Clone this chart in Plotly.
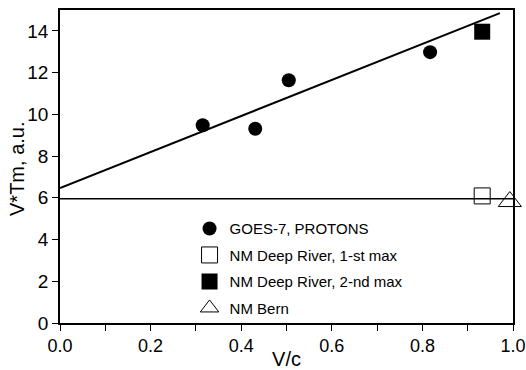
import plotly.graph_objects as go

goes_x = [0.315, 0.431, 0.505, 0.817]
goes_y = [9.48, 9.31, 11.63, 12.98]
dr1_x = [0.932]
dr1_y = [6.09]
dr2_x = [0.932]
dr2_y = [13.96]
bern_x = [0.993]
bern_y = [5.82]
fit_x = [0.0, 0.971]
fit_y = [6.47, 14.85]
hline_x = [0.0, 1.0]
hline_y = [5.95, 5.95]

fig = go.Figure()
fig.add_trace(go.Scatter(x=fit_x, y=fit_y, mode="lines", line=dict(color="black", width=2),
                         showlegend=False))
fig.add_trace(go.Scatter(x=hline_x, y=hline_y, mode="lines", line=dict(color="black", width=1.5),
                         showlegend=False))
fig.add_trace(go.Scatter(x=goes_x, y=goes_y, mode="markers", name="GOES-7, PROTONS", legendgroup="a",
                         marker=dict(symbol="circle", size=14, color="black")))
fig.add_trace(go.Scatter(x=dr1_x, y=dr1_y, mode="markers", name="NM Deep River, 1-st max", legendgroup="b",
                         marker=dict(symbol="square-open", size=16, color="black", line=dict(width=1))))
fig.add_trace(go.Scatter(x=dr2_x, y=dr2_y, mode="markers", name="NM Deep River, 2-nd max", legendgroup="c",
                         marker=dict(symbol="square", size=16, color="black")))
fig.add_trace(go.Scatter(x=bern_x, y=bern_y, mode="markers", name="NM Bern", legendgroup="d",
                         marker=dict(symbol="triangle-up-open", size=20, color="black", line=dict(width=1)),
                         cliponaxis=False))

fig.update_layout(
    width=526, height=370,
    margin=dict(l=60, r=13, t=10, b=47, autoexpand=False),
    paper_bgcolor="white", plot_bgcolor="white",
    font=dict(family="Liberation Sans, Arial, sans-serif", color="black"),
    legend=dict(x=0.286, y=0.354, xanchor="left", yanchor="top", bgcolor="rgba(0,0,0,0)",
                font=dict(size=15), traceorder="grouped", tracegroupgap=4, itemwidth=30),
    showlegend=True,
    annotations=[dict(text="V*Tm, a.u.", xref="paper", yref="paper", x=-0.095, y=0.492,
                      xanchor="center", yanchor="middle", textangle=-90, showarrow=False,
                      font=dict(size=20))],
)
fig.update_xaxes(range=[0, 1.0], dtick=0.2, tickformat=".1f", ticks="outside", ticklen=6,
                 tickwidth=1, tickcolor="black", showline=True, linecolor="black", linewidth=1.5,
                 mirror=True, showgrid=False, zeroline=False, automargin=False,
                 minor=dict(dtick=0.1, ticks="outside", ticklen=6, tickcolor="black", showgrid=False),
                 tickfont=dict(size=18),
                 title=dict(text="V/c", font=dict(size=20), standoff=0))
fig.update_yaxes(range=[0, 15], dtick=2, ticks="outside", ticklen=6, tickwidth=1, tickcolor="black",
                 showline=True, linecolor="black", linewidth=1.5, mirror=True, showgrid=False,
                 zeroline=False, automargin=False, tickfont=dict(size=19))

fig.write_html("out.html", config={"displayModeBar": False},
               post_script="document.body.style.margin='0';document.body.style.overflow='hidden';")
